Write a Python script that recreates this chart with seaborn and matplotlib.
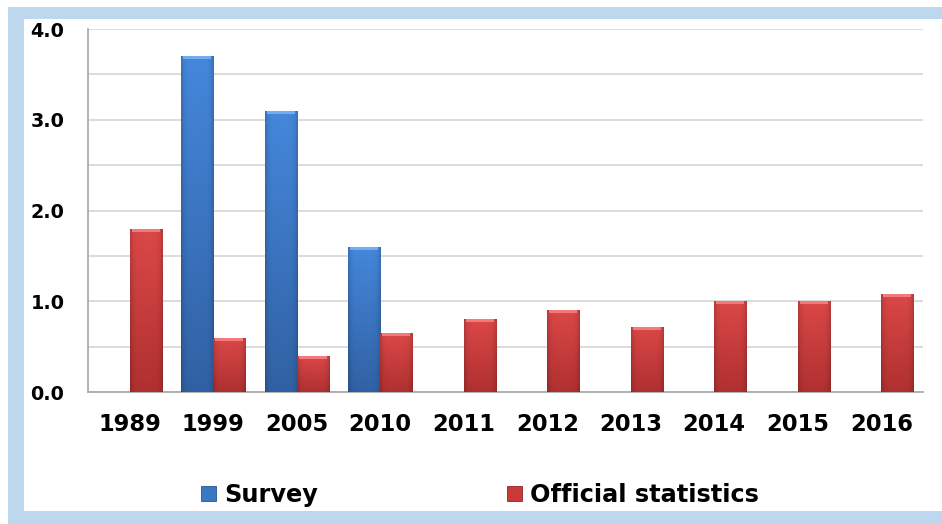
import numpy as np
import pandas as pd
import matplotlib
matplotlib.use("Agg")
import matplotlib.pyplot as plt
import seaborn as sns
from matplotlib.patches import Rectangle, Patch

# ---- data -------------------------------------------------------------
years = ["1989", "1999", "2005", "2010", "2011", "2012", "2013", "2014", "2015", "2016"]
survey = [np.nan, 3.7, 3.1, 1.6, np.nan, np.nan, np.nan, np.nan, np.nan, np.nan]
official = [1.8, 0.6, 0.4, 0.65, 0.8, 0.9, 0.72, 1.0, 1.0, 1.08]
series_names = ["Survey", "Official statistics"]
y_major = [0.0, 1.0, 2.0, 3.0, 4.0]
y_minor = [0.5, 1.5, 2.5, 3.5]

df = pd.DataFrame({
    "year": years * 2,
    "value": survey + official,
    "series": [series_names[0]] * len(years) + [series_names[1]] * len(years),
})

# ---- style ------------------------------------------------------------
sns.set_theme(style="white")
plt.rcParams["font.family"] = ["DejaVu Sans"]
plt.rcParams["text.color"] = "black"

W, H = 942, 524
fig = plt.figure(figsize=(W / 100, H / 100), dpi=100)
fig.patch.set_facecolor("white")

# light blue frame
frame_col = "#BDD7EE"
for (x0, y0, x1, y1) in [(8, 7, W, 19), (8, 7, 24, H), (8, 511, W, H)]:
    fig.add_artist(Rectangle((x0 / W, 1 - y1 / H), (x1 - x0) / W, (y1 - y0) / H,
                             transform=fig.transFigure, facecolor=frame_col,
                             edgecolor="none", zorder=0))

ax = fig.add_axes([88 / W, 1 - 392 / H, 835 / W, 363 / H])
ax.set_facecolor("white")

blue = "#3B78C4"
red = "#C93A3A"
sns.barplot(data=df, x="year", y="value", hue="series", order=years,
            hue_order=series_names, palette=[blue, red], width=0.77, gap=0,
            saturation=1, legend=False, ax=ax, zorder=3)

# shaded bar faces
shades = {
    0: ((0.27, 0.53, 0.86), (0.19, 0.38, 0.64), (0.45, 0.68, 0.93), "#2A5590"),
    1: ((0.86, 0.28, 0.28), (0.69, 0.19, 0.19), (0.95, 0.48, 0.48), "#8E2626"),
}
px_per_unit = 363 / 4.0
for ci, cont in enumerate(ax.containers):
    top_c, bot_c, bevel_c, edge_c = shades[ci]
    for bar in cont:
        h = bar.get_height()
        if not np.isfinite(h) or h <= 0:
            continue
        x0, w = bar.get_x(), bar.get_width()
        bar.set_edgecolor(edge_c)
        bar.set_linewidth(0.6)
        v = np.linspace(0, 1, 80)[:, None]
        u = np.linspace(0, 1, 40)[None, :]
        edge = 1 - 0.18 * np.abs(2 * u - 1) ** 6
        img = np.zeros((80, 40, 3))
        for k in range(3):
            img[:, :, k] = (top_c[k] * (1 - v) + bot_c[k] * v) * edge
        im = ax.imshow(np.clip(img, 0, 1), extent=(x0, x0 + w, 0, h),
                       origin="upper", aspect="auto", zorder=3.5,
                       interpolation="bilinear")
        im.set_clip_path(bar)
        bev = 3.0 / px_per_unit
        ax.add_patch(Rectangle((x0 + w * 0.06, h - bev), w * 0.88, bev,
                               facecolor=bevel_c, edgecolor="none", zorder=4))

ax.set_xlim(-0.5, len(years) - 0.5)
ax.set_ylim(0, 4.0)

# axes, grid and ticks
grid_col = "#D9D9D9"
axis_col = "#A6A6A6"
ax.set_yticks(y_major)
ax.set_yticklabels([f"{v:.1f}" for v in y_major])
ax.set_yticks(y_minor, minor=True)
ax.yaxis.grid(True, which="both", color=grid_col, linewidth=1.3, zorder=0)
ax.set_axisbelow(True)
ax.xaxis.grid(False)

ax.set_xticks(range(len(years)))
ax.set_xticklabels(years)
ax.set_xticks(np.arange(-0.5, len(years), 1.0), minor=True)

ax.tick_params(axis="y", which="major", length=6, width=1, color=axis_col,
               pad=11, labelsize=13.8, labelcolor="black")
ax.tick_params(axis="y", which="minor", length=0)
ax.tick_params(axis="x", which="major", length=0, pad=15, labelsize=16.3,
               labelcolor="black")
ax.tick_params(axis="x", which="minor", length=6, width=1, color=axis_col,
               direction="in")
for lab in ax.get_xticklabels() + ax.get_yticklabels():
    lab.set_fontweight("bold")

for side in ["top", "right"]:
    ax.spines[side].set_visible(False)
for side in ["left", "bottom"]:
    ax.spines[side].set_color(axis_col)
    ax.spines[side].set_linewidth(1.2)

ax.set_xlabel("")
ax.set_ylabel("")

# legend
handles = [Patch(facecolor=blue, edgecolor="#2A5590", linewidth=0.6),
           Patch(facecolor=red, edgecolor="#8E2626", linewidth=0.6)]
fig.legend(handles, series_names, loc="center left",
           bbox_to_anchor=(201 / W, 1 - 495 / H), ncol=2, frameon=False,
           prop={"weight": "bold", "size": 17.3}, handlelength=0.62,
           handleheight=0.62, handletextpad=0.35, columnspacing=7.85,
           borderpad=0, borderaxespad=0, labelcolor="black")

fig.savefig("out.png", dpi=100, facecolor="white")
